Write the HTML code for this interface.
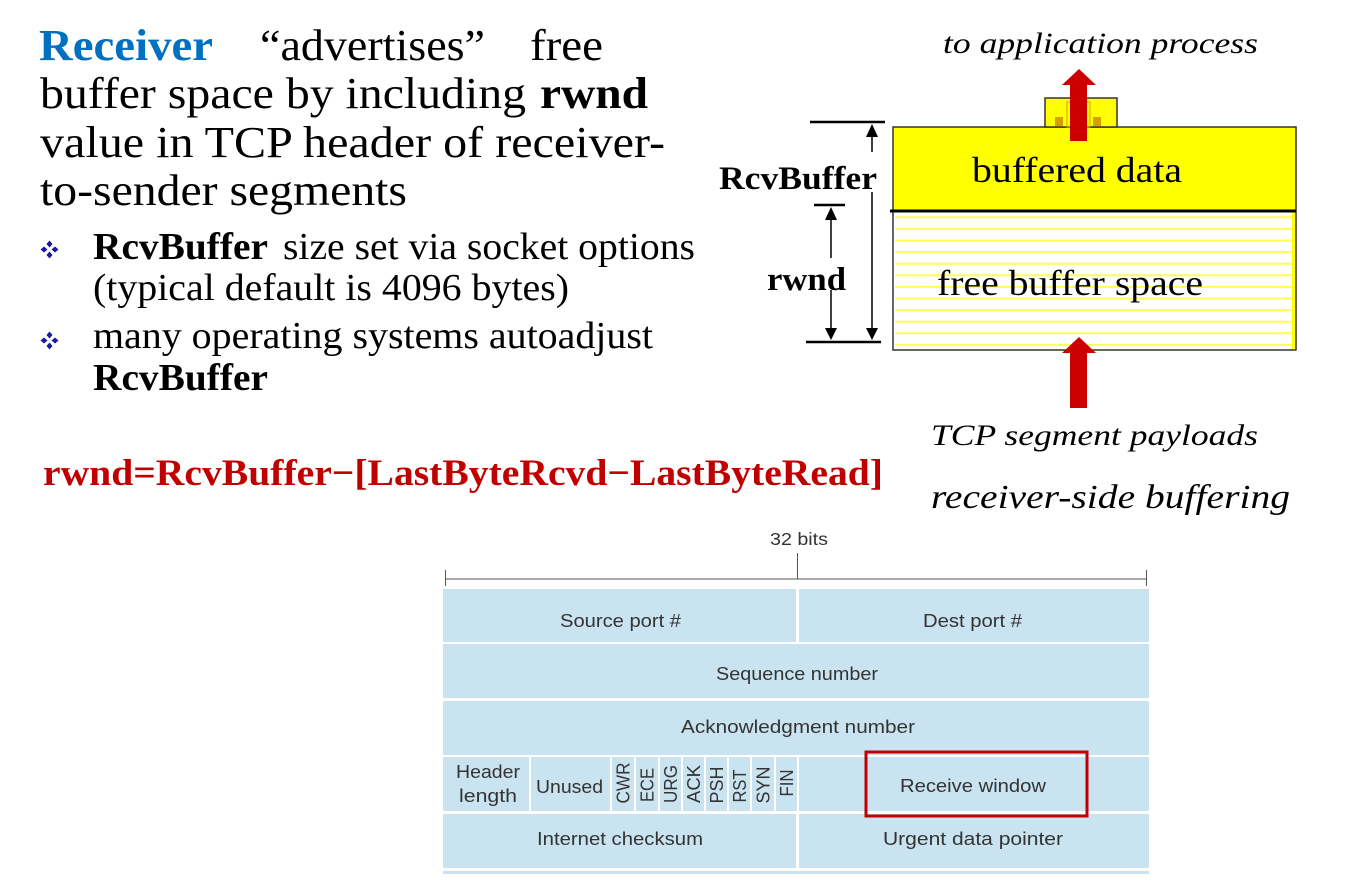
<!DOCTYPE html>
<html>
<head>
<meta charset="utf-8">
<style>
  html, body { margin: 0; padding: 0; background: #ffffff; }
  body { width: 1346px; height: 889px; overflow: hidden; }
  svg { display: block; }
  .serif { font-family: "Liberation Serif", "Times New Roman", serif; }
  .sans { font-family: "Liberation Sans", Arial, sans-serif; fill: #333333; }
</style>
</head>
<body>
<svg width="1346" height="889" viewBox="0 0 1346 889" xmlns="http://www.w3.org/2000/svg">
  <rect x="0" y="0" width="1346" height="889" fill="#ffffff"/>

  <!-- ===== Left paragraph ===== -->
  <g class="serif" fill="#000">
    <text x="39" y="60" font-size="44" font-weight="bold" fill="#0070c0" textLength="174" lengthAdjust="spacingAndGlyphs">Receiver</text>
    <text x="260" y="60" font-size="44" textLength="225" lengthAdjust="spacingAndGlyphs">“advertises”</text>
    <text x="530" y="60" font-size="44" textLength="73" lengthAdjust="spacingAndGlyphs">free</text>

    <text x="40" y="108" font-size="44" textLength="486" lengthAdjust="spacingAndGlyphs">buffer space by including</text>
    <text x="540" y="108" font-size="44" font-weight="bold" textLength="108" lengthAdjust="spacingAndGlyphs">rwnd</text>

    <text x="40" y="157" font-size="44" textLength="625" lengthAdjust="spacingAndGlyphs">value in TCP header of receiver-</text>
    <text x="40" y="205" font-size="44" textLength="367" lengthAdjust="spacingAndGlyphs">to-sender segments</text>

    <!-- bullet 1 -->
    <text x="93" y="259" font-size="38" font-weight="bold" textLength="175" lengthAdjust="spacingAndGlyphs">RcvBuffer</text>
    <text x="283" y="259" font-size="38" textLength="412" lengthAdjust="spacingAndGlyphs">size set via socket options</text>
    <text x="93" y="300" font-size="38" textLength="476" lengthAdjust="spacingAndGlyphs">(typical default is 4096 bytes)</text>

    <!-- bullet 2 -->
    <text x="93" y="348" font-size="38" textLength="560" lengthAdjust="spacingAndGlyphs">many operating systems autoadjust</text>
    <text x="93" y="390" font-size="38" font-weight="bold" textLength="175" lengthAdjust="spacingAndGlyphs">RcvBuffer</text>

    <!-- formula -->
    <text x="43" y="485" font-size="37" font-weight="bold" fill="#c00000" textLength="840" lengthAdjust="spacingAndGlyphs">rwnd=RcvBuffer−[LastByteRcvd−LastByteRead]</text>
  </g>

  <!-- bullet glyphs -->
  <g fill="#1a1aa0">
    <g transform="translate(49.5,249.5)">
      <polygon points="0,-9 3,-5.5 0,-2 -3,-5.5"/>
      <polygon points="0,9 3,5.5 0,2 -3,5.5"/>
      <polygon points="-9,0 -5.5,-3 -2,0 -5.5,3"/>
      <polygon points="9,0 5.5,-3 2,0 5.5,3"/>
    </g>
    <g transform="translate(49.5,340.5)">
      <polygon points="0,-9 3,-5.5 0,-2 -3,-5.5"/>
      <polygon points="0,9 3,5.5 0,2 -3,5.5"/>
      <polygon points="-9,0 -5.5,-3 -2,0 -5.5,3"/>
      <polygon points="9,0 5.5,-3 2,0 5.5,3"/>
    </g>
  </g>

  <!-- ===== Buffer diagram ===== -->
  <rect x="893" y="127" width="403" height="223" fill="#ffffff"/>
  <g stroke="#ffff55" stroke-width="2">
    <line x1="895" y1="217.3" x2="1294" y2="217.3"/>
    <line x1="895" y1="228.9" x2="1294" y2="228.9"/>
    <line x1="895" y1="240.5" x2="1294" y2="240.5"/>
    <line x1="895" y1="252.1" x2="1294" y2="252.1"/>
    <line x1="895" y1="263.7" x2="1294" y2="263.7"/>
    <line x1="895" y1="275.3" x2="1294" y2="275.3"/>
    <line x1="895" y1="286.9" x2="1294" y2="286.9"/>
    <line x1="895" y1="298.5" x2="1294" y2="298.5"/>
    <line x1="895" y1="310.1" x2="1294" y2="310.1"/>
    <line x1="895" y1="321.7" x2="1294" y2="321.7"/>
    <line x1="895" y1="333.3" x2="1294" y2="333.3"/>
    <line x1="895" y1="344.9" x2="1294" y2="344.9"/>
  </g>
  <rect x="1292" y="212" width="3" height="137" fill="#ffff00"/>
  <rect x="893" y="127" width="403" height="84" fill="#ffff00"/>
  <rect x="893" y="127" width="403" height="223" fill="none" stroke="#333" stroke-width="1.5"/>
  <line x1="890" y1="211" x2="1296" y2="211" stroke="#000" stroke-width="3"/>

  <!-- small box on top -->
  <rect x="1045" y="98" width="72" height="29" fill="#ffff00" stroke="#333" stroke-width="1.5"/>
  <rect x="1055" y="117" width="8" height="9" fill="#d4a000"/>
  <rect x="1093" y="117" width="8" height="9" fill="#d4a000"/>
  <rect x="1067" y="102" width="23" height="25" fill="none" stroke="#d4a000" stroke-width="1"/>

  <!-- red arrows -->
  <polygon points="1070,141 1070,85 1062,85 1079,69 1096,85 1087,85 1087,141" fill="#cc0000"/>
  <polygon points="1070,408 1070,353 1062,353 1079,337 1096,353 1087,353 1087,408" fill="#cc0000"/>

  <!-- dimension lines -->
  <g stroke="#000">
    <line x1="810" y1="122" x2="885" y2="122" stroke-width="2.5"/>
    <line x1="806" y1="342" x2="881" y2="342" stroke-width="2.5"/>
    <line x1="814" y1="205" x2="845" y2="205" stroke-width="2.5"/>
    <line x1="872" y1="136" x2="872" y2="152" stroke-width="1.5"/>
    <line x1="872" y1="192" x2="872" y2="329" stroke-width="1.5"/>
    <line x1="831" y1="219" x2="831" y2="258" stroke-width="1.5"/>
    <line x1="831" y1="290" x2="831" y2="329" stroke-width="1.5"/>
  </g>
  <g fill="#000">
    <polygon points="872,124 866,137 878,137"/>
    <polygon points="872,340 866,328 878,328"/>
    <polygon points="831,207 825,220 837,220"/>
    <polygon points="831,340 825,328 837,328"/>
  </g>

  <g class="serif" fill="#000">
    <text x="719" y="189" font-size="33" font-weight="bold" textLength="158" lengthAdjust="spacingAndGlyphs">RcvBuffer</text>
    <text x="767" y="290" font-size="33" font-weight="bold" textLength="79" lengthAdjust="spacingAndGlyphs">rwnd</text>
    <text x="972" y="182" font-size="36" textLength="210" lengthAdjust="spacingAndGlyphs">buffered data</text>
    <text x="937" y="295" font-size="36" textLength="266" lengthAdjust="spacingAndGlyphs">free buffer space</text>

    <text x="943" y="53" font-size="30" font-style="italic" textLength="315" lengthAdjust="spacingAndGlyphs">to application process</text>
    <text x="931" y="445" font-size="30" font-style="italic" textLength="327" lengthAdjust="spacingAndGlyphs">TCP segment payloads</text>
    <text x="931" y="508" font-size="34" font-style="italic" textLength="359" lengthAdjust="spacingAndGlyphs">receiver-side buffering</text>
  </g>

  <!-- ===== TCP header ===== -->
  <g stroke="#555" stroke-width="1" fill="none">
    <line x1="445" y1="579" x2="1146" y2="579"/>
    <line x1="445.5" y1="570" x2="445.5" y2="586"/>
    <line x1="1146.5" y1="570" x2="1146.5" y2="586"/>
    <line x1="797.5" y1="553" x2="797.5" y2="579"/>
  </g>
  <text class="sans" x="770" y="545" font-size="17.5" textLength="58" lengthAdjust="spacingAndGlyphs">32 bits</text>

  <g fill="#cae3f0">
    <rect x="443" y="589" width="353" height="53"/>
    <rect x="799" y="589" width="350" height="53"/>
    <rect x="443" y="644" width="706" height="54"/>
    <rect x="443" y="701" width="706" height="54"/>
    <rect x="443" y="757" width="706" height="54"/>
    <rect x="443" y="814" width="353" height="54"/>
    <rect x="799" y="814" width="350" height="54"/>
    <rect x="443" y="871" width="706" height="3"/>
  </g>
  <g stroke="#ffffff" stroke-width="2">
    <line x1="530" y1="757" x2="530" y2="811"/>
    <line x1="611" y1="757" x2="611" y2="811"/>
    <line x1="635" y1="757" x2="635" y2="811"/>
    <line x1="659" y1="757" x2="659" y2="811"/>
    <line x1="682" y1="757" x2="682" y2="811"/>
    <line x1="705" y1="757" x2="705" y2="811"/>
    <line x1="728" y1="757" x2="728" y2="811"/>
    <line x1="751" y1="757" x2="751" y2="811"/>
    <line x1="775" y1="757" x2="775" y2="811"/>
    <line x1="798" y1="757" x2="798" y2="811"/>
  </g>

  <g class="sans" font-size="18.5">
    <text x="560" y="627" textLength="121" lengthAdjust="spacingAndGlyphs">Source port #</text>
    <text x="923" y="627" textLength="99" lengthAdjust="spacingAndGlyphs">Dest port #</text>
    <text x="716" y="680" textLength="162" lengthAdjust="spacingAndGlyphs">Sequence number</text>
    <text x="681" y="733" textLength="234" lengthAdjust="spacingAndGlyphs">Acknowledgment number</text>
    <text x="456" y="778" textLength="64" lengthAdjust="spacingAndGlyphs">Header</text>
    <text x="459" y="802" textLength="58" lengthAdjust="spacingAndGlyphs">length</text>
    <text x="536" y="793" textLength="67" lengthAdjust="spacingAndGlyphs">Unused</text>
    <text x="900" y="792" textLength="146" lengthAdjust="spacingAndGlyphs">Receive window</text>
    <text x="537" y="845" textLength="166" lengthAdjust="spacingAndGlyphs">Internet checksum</text>
    <text x="883" y="845" textLength="180" lengthAdjust="spacingAndGlyphs">Urgent data pointer</text>

    <text transform="translate(629.5,783) rotate(-90)" text-anchor="middle" textLength="41" lengthAdjust="spacingAndGlyphs">CWR</text>
    <text transform="translate(653.5,785) rotate(-90)" text-anchor="middle" textLength="34" lengthAdjust="spacingAndGlyphs">ECE</text>
    <text transform="translate(677,784) rotate(-90)" text-anchor="middle" textLength="38" lengthAdjust="spacingAndGlyphs">URG</text>
    <text transform="translate(700,784) rotate(-90)" text-anchor="middle" textLength="38" lengthAdjust="spacingAndGlyphs">ACK</text>
    <text transform="translate(723,785) rotate(-90)" text-anchor="middle" textLength="37" lengthAdjust="spacingAndGlyphs">PSH</text>
    <text transform="translate(746,786) rotate(-90)" text-anchor="middle" textLength="33" lengthAdjust="spacingAndGlyphs">RST</text>
    <text transform="translate(769.5,785) rotate(-90)" text-anchor="middle" textLength="37" lengthAdjust="spacingAndGlyphs">SYN</text>
    <text transform="translate(793,783) rotate(-90)" text-anchor="middle" textLength="27" lengthAdjust="spacingAndGlyphs">FIN</text>
  </g>

  <rect x="866" y="752" width="221" height="64" fill="none" stroke="#c00000" stroke-width="3"/>
</svg>
</body>
</html>
